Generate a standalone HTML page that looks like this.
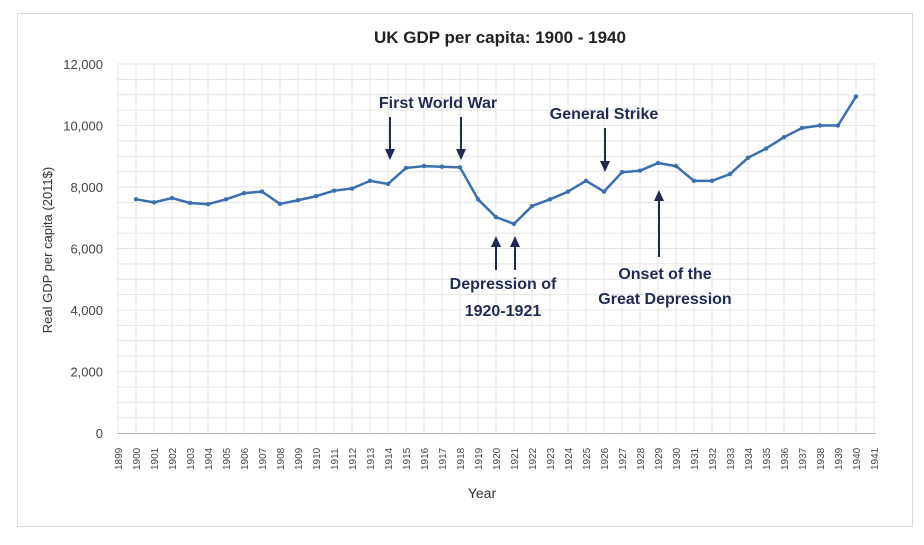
<!DOCTYPE html>
<html><head><meta charset="utf-8"><style>
body{margin:0;background:#fff;}
svg text{font-family:"Liberation Sans",sans-serif;}
</style></head><body>
<svg width="924" height="540" xmlns="http://www.w3.org/2000/svg">
<rect x="17.5" y="13.5" width="895" height="513" fill="#fff" stroke="#d9d9d9"/>
<text x="500" y="43" font-size="17" font-weight="bold" text-anchor="middle" fill="#222">UK GDP per capita: 1900 - 1940</text>
<g id="grid" stroke="#e4e4e4" stroke-width="1"></g>
<g id="ax" font-size="13" fill="#444"></g>
<text transform="translate(52,250) rotate(-90)" font-size="13" text-anchor="middle" fill="#333">Real GDP per capita (2011$)</text>
<text x="482" y="498" font-size="14" text-anchor="middle" fill="#333">Year</text>
<polyline id="line" fill="none" stroke="#3b6fb0" stroke-width="2.5" stroke-linejoin="round"/>
<g id="dots" fill="#3b6fb0"></g>
<g fill="#1f2a55" font-size="16" font-weight="bold" text-anchor="middle">
<text x="438" y="108">First World War</text>
<text x="604" y="119">General Strike</text>
<text x="503" y="289">Depression of</text>
<text x="503" y="316">1920-1921</text>
<text x="665" y="279">Onset of the</text>
<text x="665" y="304">Great Depression</text>
</g>
<g stroke="#1f2a55" stroke-width="2">
<line x1="390" y1="117" x2="390" y2="150"/>
<line x1="461" y1="117" x2="461" y2="150"/>
<line x1="605" y1="128" x2="605" y2="162"/>
<line x1="496" y1="270" x2="496" y2="246"/>
<line x1="515" y1="270" x2="515" y2="246"/>
<line x1="659" y1="257" x2="659" y2="200"/>
</g>
<g fill="#1f2a55">
<path d="M385,149 L395,149 L390,160 Z"/>
<path d="M456,149 L466,149 L461,160 Z"/>
<path d="M600,161 L610,161 L605,172 Z"/>
<path d="M491,247 L501,247 L496,236 Z"/>
<path d="M510,247 L520,247 L515,236 Z"/>
<path d="M654,201 L664,201 L659,190 Z"/>
</g>
</svg>
<script>
const ns="http://www.w3.org/2000/svg";
const X=y=>136+(y-1900)*18, Y=v=>433-v*0.03075;
const g=document.getElementById('grid'),ax=document.getElementById('ax');
function el(t,a,p,txt){const e=document.createElementNS(ns,t);for(const k in a)e.setAttribute(k,a[k]);if(txt)e.textContent=txt;p.appendChild(e);return e;}
for(let v=500;v<=12000;v+=500)el('line',{x1:117,x2:876,y1:Y(v),y2:Y(v)},g);
for(let y=1899;y<=1941;y++){el('line',{x1:X(y),x2:X(y),y1:64,y2:433},g);
el('text',{transform:`translate(${X(y)+4},470) rotate(-90)`,'font-size':10},ax,String(y));}
el('line',{x1:117,x2:876,y1:433.5,y2:433.5,stroke:'#bbb'},g);
for(let v=0;v<=12000;v+=2000)el('text',{x:103,y:Y(v)+5,'text-anchor':'end'},ax,v.toLocaleString('en-US'));
const d=[7600,7500,7640,7480,7440,7600,7800,7850,7450,7570,7700,7880,7950,8200,8100,8620,8680,8660,8640,7600,7020,6800,7380,7600,7850,8200,7850,8480,8530,8780,8680,8200,8200,8420,8950,9250,9620,9920,10000,10000,10940];
document.getElementById('line').setAttribute('points',d.map((v,i)=>X(1900+i)+','+Y(v)).join(' '));
const dt=document.getElementById('dots');d.forEach((v,i)=>el('circle',{cx:X(1900+i),cy:Y(v),r:2.2},dt));
</script>
</body></html>
